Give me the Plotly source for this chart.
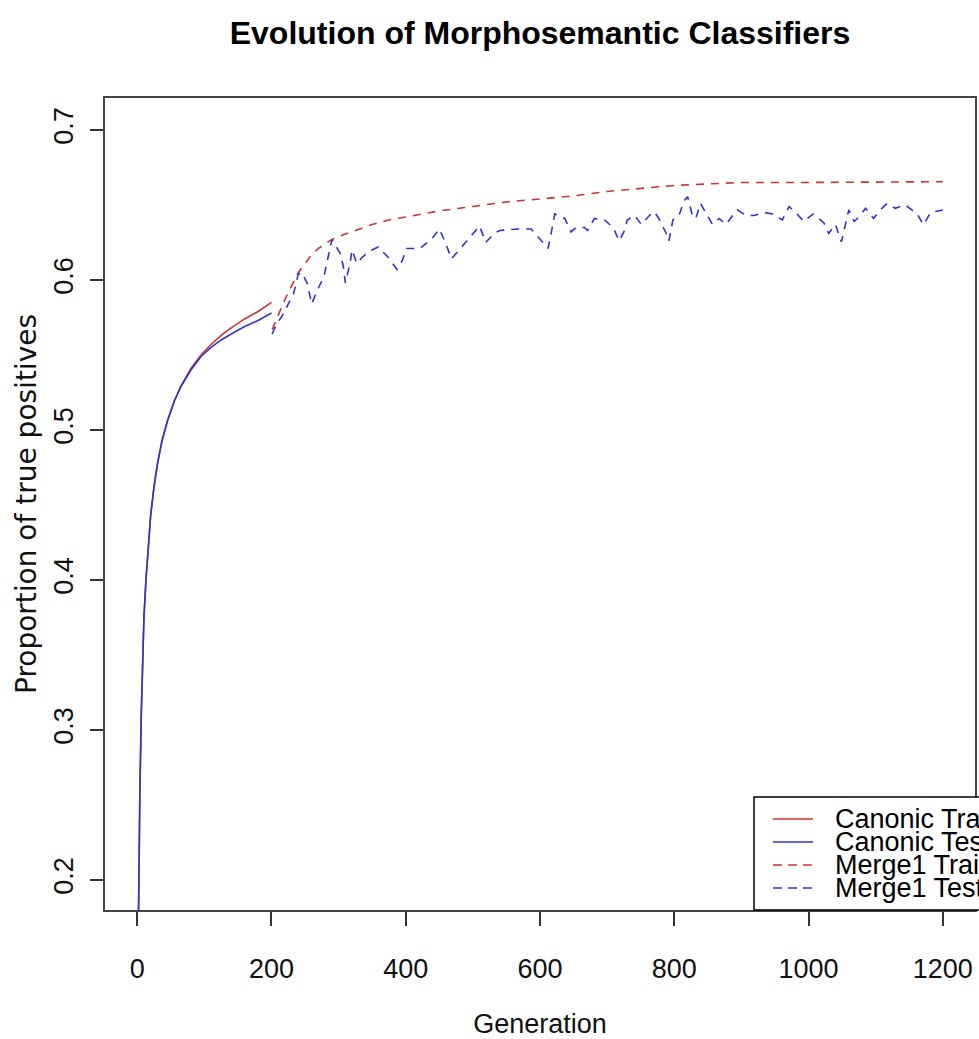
import plotly.graph_objects as go

# ---------------- data ----------------
canonic_gen = [0, 2, 4, 6, 8, 10, 13, 16, 20, 25, 30, 37, 45, 55, 65, 80, 95,
               110, 125, 140, 160, 180, 200]
canonic_train = [0.10, 0.20, 0.26, 0.31, 0.35, 0.375, 0.40, 0.42, 0.443, 0.462,
                 0.477, 0.493, 0.506, 0.519, 0.529, 0.541, 0.550, 0.557, 0.563,
                 0.568, 0.574, 0.579, 0.585]
canonic_test = [0.10, 0.20, 0.26, 0.31, 0.35, 0.375, 0.40, 0.42, 0.443, 0.462,
                0.477, 0.493, 0.506, 0.519, 0.529, 0.540, 0.549, 0.555, 0.560,
                0.564, 0.569, 0.573, 0.578]

merge_train_gen = [201, 210, 220, 230, 240, 250, 260, 270, 280, 290, 300, 325,
                   350, 375, 400, 450, 500, 550, 600, 650, 700, 750, 800, 850,
                   900, 1000, 1100, 1200]
merge_train = [0.567, 0.577, 0.587, 0.596, 0.605, 0.611, 0.617, 0.621, 0.624,
               0.627, 0.629, 0.633, 0.637, 0.640, 0.642, 0.646, 0.649, 0.652,
               0.654, 0.656, 0.659, 0.661, 0.663, 0.664, 0.665, 0.665, 0.6655,
               0.6655]

merge_test_gen = [201, 208, 216, 224, 233, 240, 245, 253, 260, 268, 278, 290,
                  302, 307, 310, 317, 320, 327, 335, 345, 359, 374, 387, 395,
                  401, 421, 438, 450, 460, 468, 485, 498, 510, 519, 532, 540,
                  567, 587, 599, 612, 617, 622, 637, 646, 654, 666, 671, 681,
                  696, 709, 718, 725, 730, 741, 751, 763, 770, 777, 787, 792,
                  798, 807, 815, 820, 827, 832, 839, 844, 857, 867, 877, 887,
                  894, 907, 919, 934, 946, 961, 971, 983, 993, 1007, 1023,
                  1030, 1040, 1049, 1055, 1060, 1068, 1075, 1085, 1097, 1107,
                  1117, 1129, 1144, 1162, 1171, 1182, 1200]
merge_test = [0.564, 0.571, 0.576, 0.583, 0.591, 0.604, 0.605, 0.598, 0.584,
              0.593, 0.602, 0.627, 0.618, 0.609, 0.598, 0.611, 0.620, 0.611,
              0.615, 0.619, 0.622, 0.615, 0.607, 0.613, 0.621, 0.621, 0.627,
              0.634, 0.624, 0.614, 0.623, 0.630, 0.636, 0.625, 0.631, 0.633,
              0.634, 0.634, 0.628, 0.621, 0.632, 0.644, 0.641, 0.632, 0.635,
              0.635, 0.633, 0.641, 0.640, 0.635, 0.626, 0.632, 0.640, 0.643,
              0.637, 0.643, 0.6455, 0.641, 0.632, 0.626, 0.640, 0.643, 0.653,
              0.6555, 0.643, 0.641, 0.651, 0.647, 0.637, 0.641, 0.637, 0.643,
              0.6467, 0.643, 0.643, 0.645, 0.644, 0.640, 0.649, 0.644, 0.639,
              0.644, 0.638, 0.631, 0.637, 0.6255, 0.636, 0.6467, 0.639, 0.642,
              0.6478, 0.641, 0.6467, 0.651, 0.6478, 0.650, 0.644, 0.6367,
              0.645, 0.6467]

x_ticks = [0, 200, 400, 600, 800, 1000, 1200]
y_ticks = [0.2, 0.3, 0.4, 0.5, 0.6, 0.7]
y_ticktext = ["0.2", "0.3", "0.4", "0.5", "0.6", "0.7"]
legend_labels = ["Canonic Train", "Canonic Test", "Merge1 Train", "Merge1 Test"]

RED = "#CC3333"
BLUE = "#3333CC"
FONT = "Liberation Sans, Arial, sans-serif"

fig = go.Figure()
fig.add_trace(go.Scatter(x=canonic_gen, y=canonic_train, mode="lines",
                         line=dict(color=RED, width=1.6), name=legend_labels[0]))
fig.add_trace(go.Scatter(x=canonic_gen, y=canonic_test, mode="lines",
                         line=dict(color=BLUE, width=1.6), name=legend_labels[1]))
fig.add_trace(go.Scatter(x=merge_train_gen, y=merge_train, mode="lines",
                         line=dict(color=RED, width=1.6, dash="8px,7px"),
                         name=legend_labels[2]))
fig.add_trace(go.Scatter(x=merge_test_gen, y=merge_test, mode="lines",
                         line=dict(color=BLUE, width=1.6, dash="8px,7px"),
                         name=legend_labels[3]))

W, H = 979, 1039
# plot area in window pixels: x 105..975, y 98..910
L, R, T, B = 105, W - 975, 98, H - 910
pw, ph = W - L - R, H - T - B

def px(xw):
    """window x pixel -> paper x"""
    return (xw - L) / pw

def py(yw):
    """window y pixel -> paper y"""
    return (H - B - yw) / ph

# manual R-style legend (box clipped at the right edge like the original)
shapes = [dict(type="rect", xref="paper", yref="paper",
               x0=px(754), x1=px(1010), y0=py(910), y1=py(797),
               line=dict(color="black", width=1.5), fillcolor="white",
               layer="above")]
annotations = []
colors = [RED, BLUE, RED, BLUE]
dashes = ["solid", "solid", "9px,6px", "9px,6px"]
rows = [819, 842, 865, 888]
for lab, c, d, yr in zip(legend_labels, colors, dashes, rows):
    shapes.append(dict(type="line", xref="paper", yref="paper",
                       x0=px(773), x1=px(813), y0=py(yr), y1=py(yr),
                       line=dict(color=c, width=1.6, dash=d), layer="above"))
    annotations.append(dict(text=lab, xref="paper", yref="paper",
                            x=px(833), y=py(yr), xanchor="left",
                            yanchor="middle", showarrow=False,
                            font=dict(family=FONT, size=27, color="black")))

fig.update_layout(
    width=W, height=H,
    margin=dict(l=L, r=R, t=T, b=B, autoexpand=False),
    paper_bgcolor="white", plot_bgcolor="white",
    showlegend=False,
    title=dict(text="<b>Evolution of Morphosemantic Classifiers</b>",
               x=0.5, xref="paper", xanchor="center",
               y=1 - 33 / H, yref="container", yanchor="middle",
               font=dict(family=FONT, size=32, color="black")),
    shapes=shapes,
    annotations=annotations,
    font=dict(family=FONT, color="black"),
)
fig.update_xaxes(range=[-48, 1248], tickvals=x_ticks, ticks="outside",
                 ticklen=14, tickwidth=1.5, tickcolor="#333",
                 showline=True, linecolor="#444", linewidth=2, mirror=True,
                 showgrid=False, zeroline=False,
                 tickfont=dict(family=FONT, size=27, color="#111"),
                 ticklabelstandoff=20,
                 title=dict(text="Generation", standoff=39,
                            font=dict(family=FONT, size=27, color="#111")))
fig.update_yaxes(range=[0.18, 0.7213], tickvals=y_ticks, ticktext=y_ticktext,
                 ticks="outside", ticklen=13, tickwidth=1.5, tickcolor="#333",
                 showline=True, linecolor="#444", linewidth=2, mirror=True,
                 showgrid=False, zeroline=False, tickangle=-90,
                 tickfont=dict(family=FONT, size=27, color="#111"),
                 ticklabelstandoff=6,
                 title=dict(text="Proportion of true positives", standoff=4,
                            font=dict(family="DejaVu Sans", size=28,
                                      color="#111")))

fig.write_html(
    "out.html",
    config={"displayModeBar": False},
    post_script="document.body.style.margin='0';"
                "document.body.style.overflow='hidden';",
)
